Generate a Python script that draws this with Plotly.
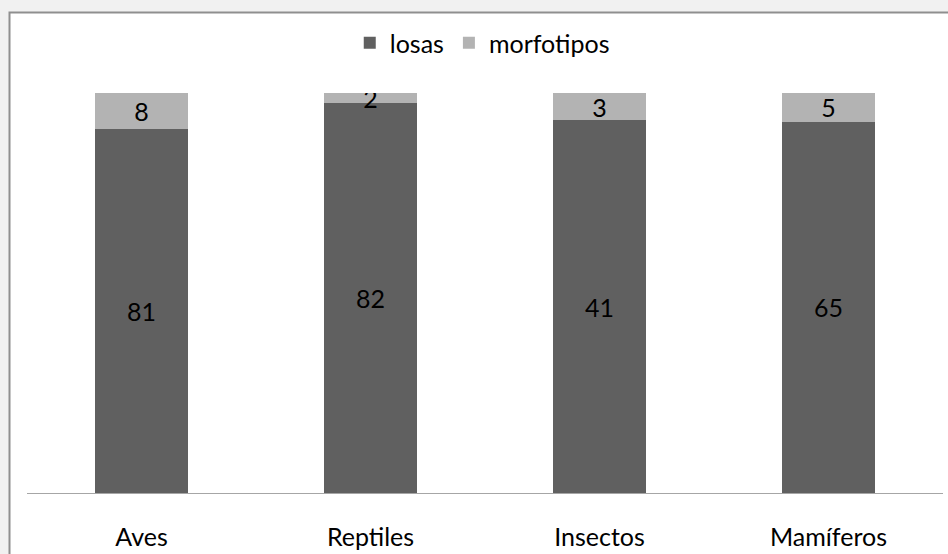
import plotly.graph_objects as go

categories = ["Aves", "Reptiles", "Insectos", "Mamíferos"]
losas = [81, 82, 41, 65]
morfotipos = [8, 2, 3, 5]

FONT = "Lato, Carlito, Calibri, sans-serif"

fig = go.Figure()
fig.add_trace(go.Bar(
    name="losas", x=categories, y=losas, text=losas, texttemplate="%{text}",
    textposition="inside", insidetextanchor="middle", textangle=0,
    marker=dict(color="#606060", line=dict(width=0)),
    textfont=dict(color="#000000", size=25, family=FONT),
))
fig.add_trace(go.Bar(
    name="morfotipos", x=categories, y=morfotipos, text=morfotipos, texttemplate="%{text}",
    textposition="inside", insidetextanchor="middle", textangle=0,
    marker=dict(color="#b3b3b3", line=dict(width=0)),
    textfont=dict(color="#000000", size=25, family=FONT),
))

fig.update_layout(
    barmode="stack", barnorm="percent", bargap=0.598,
    width=948, height=554,
    margin=dict(l=27, r=5, t=93, b=61, autoexpand=False),
    paper_bgcolor="#f1f1f1", plot_bgcolor="rgba(0,0,0,0)",
    font=dict(family=FONT, size=25, color="#000000"),
    uniformtext=dict(minsize=25, mode="show"),
    showlegend=True,
    legend=dict(orientation="h", x=0.497, xanchor="center", y=1.125, yanchor="middle",
                font=dict(size=25, family=FONT), bgcolor="rgba(0,0,0,0)",
                itemsizing="constant", traceorder="normal", itemwidth=30),
    xaxis=dict(showline=True, linecolor="#a6a6a6", linewidth=1, showgrid=False,
               ticks="", ticklabelstandoff=22, tickfont=dict(size=25, family=FONT),
               zeroline=False, fixedrange=True, automargin=False),
    yaxis=dict(range=[0, 100], visible=False, showgrid=False, zeroline=False,
               fixedrange=True, automargin=False),
    shapes=[dict(type="rect", xref="paper", yref="paper", layer="below",
                 x0=-0.0191, x1=1.05, y0=-0.3, y1=1.201,
                 fillcolor="#ffffff", line=dict(color="#8f8f8f", width=2))],
)

fig.write_html(
    "out.html",
    config={"displayModeBar": False, "staticPlot": True},
    post_script="document.body.style.margin='0';document.body.style.background='#f1f1f1';",
)
